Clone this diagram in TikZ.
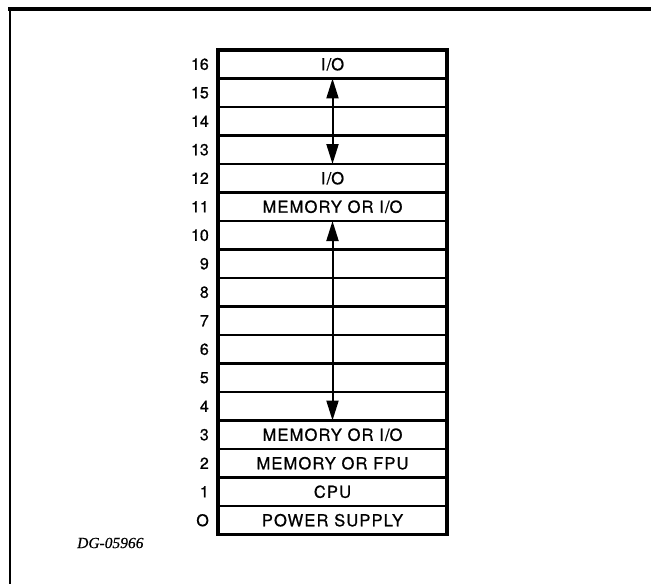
\documentclass[tikz,border=0pt]{standalone}
\usepackage{fontspec}
\setmainfont{TeX Gyre Heros}[FakeBold=0.8]
\newfontfamily\capfont{Liberation Serif}[FakeBold=0.6]
\usetikzlibrary{arrows.meta}
\tikzset{
  slotbox/.style={draw=black, line width=2.2pt, minimum width=229pt, minimum height=28.5pt, inner sep=0pt, outer sep=0pt,
    font=\fontsize{16.5}{18}\selectfont\addfontfeature{LetterSpace=7}},
  numlbl/.style={anchor=east, inner sep=0pt, font=\fontsize{16}{18}\selectfont},
  dblarrow/.style={line width=2pt, {Triangle[length=20pt,width=12pt]}-{Triangle[length=20pt,width=12pt]}},
  frameline/.style={line width=4pt}
}
\begin{document}
\begin{tikzpicture}[x=1pt,y=-1pt]
\useasboundingbox (0,0) rectangle (651,586);
% frame
\draw[frameline] (8,9) -- (651,9);
\draw[line width=2pt] (10,8) -- (10,584);
% slots
\foreach \i/\t in {16/I\slash O,15/,14/,13/,12/I\slash O,11/MEMORY OR I\slash O,10/,9/,8/,7/,6/,5/,4/,3/MEMORY OR I\slash O,2/MEMORY OR FPU,1/CPU,0/POWER SUPPLY}{
  \pgfmathsetmacro{\yc}{50+28.5*(16-\i)+14.25}
  \node[slotbox] (r\i) at (332.5,\yc) {\t};
  \node[numlbl] (n\i) at (209,\yc) {\ifnum\i=0 O\else\i\fi};
}
% outer border
\draw[line width=3.2pt] (r16.north west) rectangle (r0.south east);
% arrows
\draw[dblarrow] (r15.north) -- (r13.south);
\draw[dblarrow] (r10.north) -- (r4.south);
% caption
\node[anchor=west, inner sep=0pt, font=\capfont\itshape\fontsize{15.5}{17}\selectfont] (cap) at (77,543) {DG-05966};
\end{tikzpicture}
\end{document}
